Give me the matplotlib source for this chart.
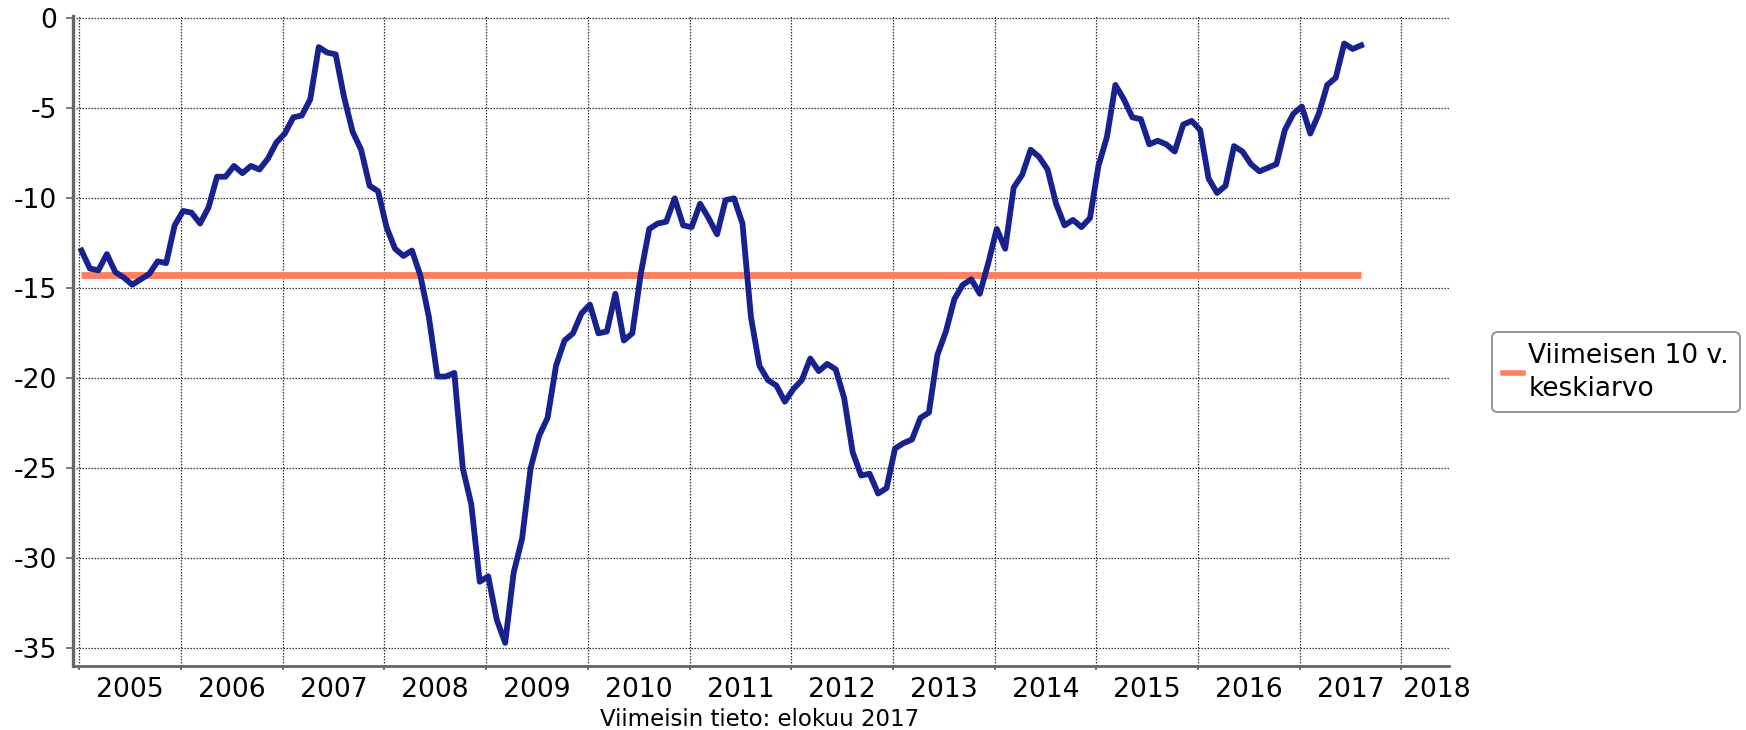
import numpy as np
import pandas as pd
import matplotlib
matplotlib.use('Agg')
import matplotlib.pyplot as plt
from matplotlib.lines import Line2D

# monthly values, Jan 2005 .. Aug 2017
values = [
    -12.9, -13.9, -14.0, -13.1, -14.1, -14.4, -14.8, -14.5, -14.2, -13.5, -13.6, -11.5,
    -10.7, -10.8, -11.4, -10.5, -8.8, -8.8, -8.2, -8.6, -8.2, -8.4, -7.8, -6.9,
    -6.4, -5.5, -5.4, -4.5, -1.6, -1.9, -2.0, -4.4, -6.3, -7.3, -9.3, -9.6,
    -11.6, -12.8, -13.2, -12.9, -14.3, -16.6, -19.9, -19.9, -19.7, -25.0, -27.0, -31.3,
    -31.0, -33.4, -34.7, -30.8, -28.9, -25.0, -23.2, -22.2, -19.3, -17.9, -17.5, -16.4,
    -15.9, -17.5, -17.4, -15.3, -17.9, -17.5, -14.2, -11.7, -11.4, -11.3, -10.0, -11.5,
    -11.6, -10.3, -11.1, -12.0, -10.1, -10.0, -11.4, -16.6, -19.3, -20.1, -20.4, -21.3,
    -20.6, -20.1, -18.9, -19.6, -19.2, -19.5, -21.1, -24.1, -25.4, -25.3, -26.4, -26.1,
    -23.9, -23.6, -23.4, -22.2, -21.9, -18.7, -17.4, -15.6, -14.8, -14.5, -15.3, -13.6,
    -11.7, -12.8, -9.4, -8.7, -7.3, -7.7, -8.4, -10.3, -11.5, -11.2, -11.6, -11.1,
    -8.2, -6.6, -3.7, -4.5, -5.5, -5.6, -7.0, -6.8, -7.0, -7.4, -5.9, -5.7,
    -6.2, -8.9, -9.7, -9.3, -7.1, -7.4, -8.1, -8.5, -8.3, -8.1, -6.2, -5.3,
    -4.9, -6.4, -5.3, -3.7, -3.3, -1.4, -1.7, -1.5,
]
average_10y = -14.25
average_label = 'Viimeisen 10 v.\nkeskiarvo'
footer = 'Viimeisin tieto: elokuu 2017'

years = list(range(2005, 2019))
year_labels = [str(y) for y in years]

months = pd.date_range('2005-01-01', periods=len(values), freq='MS')
x = months.year + (months.month - 1 + 0.25) / 12.0

plt.rcParams['font.family'] = 'DejaVu Sans'
plt.rcParams['axes.unicode_minus'] = False

fig = plt.figure(figsize=(17.46, 7.30), dpi=100)
ax = fig.add_axes([73 / 1746, 1 - 666.3 / 730, 1375.7 / 1746, 650.3 / 730])

ax.plot(x, values, color='#18228f', linewidth=4.2, zorder=3)
ax.plot([x[0], x[-1]], [average_10y, average_10y], color='#ff8060', linewidth=5.0, zorder=2,
        solid_capstyle='butt')

ax.set_xlim(2004.938, 2018.465)
ax.set_ylim(-36.0, 0.13)

# year boundaries as gridlines, labels in the middle of each year
ax.set_xticks(years)
ax.set_xticklabels([])
label_pos = [y + 0.5 for y in years[:-1]] + [2018.347]
ax.set_xticks(label_pos, minor=True)
ax.set_xticklabels(year_labels, minor=True, fontsize=19.2)
ax.tick_params(axis='x', which='minor', length=0, pad=8)
ax.tick_params(axis='x', which='major', length=3, width=1.2, color='#555555')

ax.set_yticks(np.arange(-35, 1, 5))
ax.tick_params(axis='y', length=5, width=1.2, color='#666666', pad=6.2, labelsize=19.2)

ax.grid(True, which='major', color='#333333', linestyle=(0, (1.2, 1.2)), linewidth=0.9)
ax.set_axisbelow(True)

for side in ['top', 'right']:
    ax.spines[side].set_visible(False)
ax.spines['left'].set_color('#666666')
ax.spines['left'].set_linewidth(2.4)
ax.spines['bottom'].set_color('#666666')
ax.spines['bottom'].set_linewidth(2.0)

handle = Line2D([], [], color='#ff8060', linewidth=4.0)
leg = fig.legend([handle], [average_label], loc='upper left',
                 bbox_to_anchor=(1492.3 / 1746, 1 - 332.3 / 730), borderaxespad=0,
                 fontsize=19.0, handlelength=0.75, handletextpad=0.22,
                 borderpad=0.4, labelspacing=0.3, fancybox=True, framealpha=1)
leg.get_frame().set_edgecolor('#999999')
leg.get_frame().set_linewidth(1.5)
for t in leg.get_texts():
    t.set_linespacing(1.35)

fig.text(760 / 1746, 1 - 719 / 730, footer, ha='center', va='center', fontsize=16.5)

plt.savefig('out.png', dpi=100)
